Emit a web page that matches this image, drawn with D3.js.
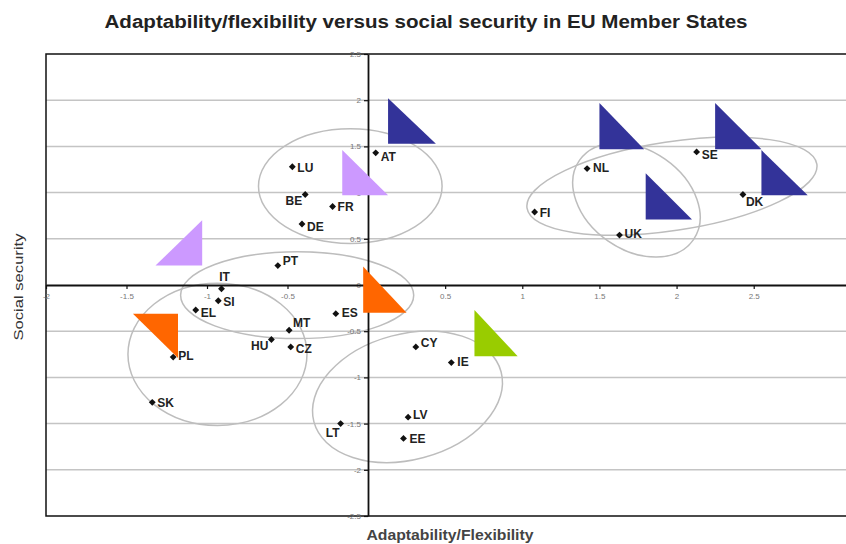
<!DOCTYPE html>
<html>
<head>
<meta charset="utf-8">
<script src="https://cdn.jsdelivr.net/npm/d3@7"></script>
<style>
  body { margin: 0; background: #fff; }
  text { font-family: "Liberation Sans", Arial, sans-serif; }
</style>
</head>
<body>
<script>
// member states and their two index scores
const countries = ["AT", "LU", "BE", "FR", "DE", "PT", "IT", "SI", "EL", "PL", "SK", "HU", "MT",
  "CZ", "ES", "LT", "CY", "IE", "LV", "EE", "FI", "NL", "SE", "DK", "UK"];
const adaptability = [0.05, -0.47, -0.39, -0.22, -0.41, -0.56, -0.91, -0.93, -1.07, -1.21, -1.34, -0.60, -0.49,
  -0.48, -0.20, -0.17, 0.31, 0.54, 0.26, 0.23, 1.08, 1.42, 2.13, 2.43, 1.63];
const socialSecurity = [1.43, 1.28, 0.98, 0.85, 0.66, 0.21, -0.04, -0.17, -0.27, -0.78, -1.27, -0.59, -0.49,
  -0.67, -0.31, -1.50, -0.67, -0.84, -1.43, -1.66, 0.79, 1.26, 1.44, 0.98, 0.54];

// cluster ellipses (data units)
const clusterCx = [-0.11, -0.44, -0.935, 0.256, 1.97, 1.74];
const clusterCy = [1.07, -0.11, -0.75, -1.21, 1.07, 0.92];
const clusterRx = [0.58, 0.73, 0.556, 0.62, 0.95, 0.45];
const clusterRy = [0.62, 0.47, 0.77, 0.68, 0.48, 0.54];
const clusterAngle = [0, 0, 0, -15, -8.6, 35];

// regime triangles (data units), corner = where the right angle sits
const triX0 = [0.13, 1.50, 2.25, 2.55, 1.80, -0.16, -1.32, -0.03, -1.46, 0.69];
const triX1 = [0.44, 1.79, 2.55, 2.85, 2.10, 0.13, -1.03, 0.25, -1.18, 0.97];
const triY0 = [2.02, 1.97, 1.97, 1.46, 1.21, 1.46, 0.70, 0.20, -0.31, -0.27];
const triY1 = [1.53, 1.47, 1.47, 0.97, 0.71, 0.97, 0.21, -0.30, -0.79, -0.77];
const triCorner = ["bl", "bl", "bl", "bl", "bl", "bl", "br", "bl", "tr", "bl"];
const triGroup = ["nordic", "nordic", "nordic", "nordic", "nordic", "continental", "continental", "mediterranean", "mediterranean", "liberal"];

const xTicks = [-2, -1.5, -1, -0.5, 0.5, 1, 1.5, 2, 2.5];
const yTicks = [2.5, 2, 1.5, 1, 0.5, 0, -0.5, -1, -1.5, -2, -2.5];
const gridValues = [2, 1.5, 1, 0.5, -0.5, -1, -1.5, -2];

const width = 846;
const height = 544;

const x = d3.scaleLinear()
    .domain([-2, 0, 3.5])
    .range([46, 368, 908]);

const y = d3.scaleLinear()
    .domain([-2.5, 2.5])
    .range([516, 54]);

const color = d3.scaleOrdinal()
    .domain(["nordic", "continental", "mediterranean", "liberal"])
    .range(["#333399", "#cc99ff", "#ff6600", "#99cc00"]);

// label placement tweaks, px
const labelPos = {
  AT: [5, 4], LU: [5, 1], BE: [-3, 6, "end"], FR: [5, 0.5], DE: [5, 3], PT: [5, -5],
  IT: [3, -12, "middle"], SI: [5, 1], EL: [5, 3], PL: [5, -1], SK: [5, 0],
  HU: [-3, 6, "end"], MT: [4, -8], CZ: [5, 2], ES: [6, -1], LT: [-1, 9, "end"],
  CY: [5, -4], IE: [6, -1], LV: [5, -2], EE: [6, 0], FI: [5, 1], NL: [6, -1],
  SE: [5, 3], DK: [3, 7], UK: [5, -1],
};

const svg = d3.select("body")
    .append("svg")
    .attr("width", width)
    .attr("height", height);

svg.append("text")
    .attr("x", 426)
    .attr("y", 28)
    .attr("text-anchor", "middle")
    .attr("font-size", 18)
    .attr("font-weight", "bold")
    .attr("fill", "#222")
    .attr("textLength", 643)
    .attr("lengthAdjust", "spacingAndGlyphs")
    .text("Adaptability/flexibility versus social security in EU Member States");

// gridlines
svg.append("g")
    .selectAll("line")
    .data(gridValues)
    .join("line")
    .attr("x1", x(-2))
    .attr("x2", width)
    .attr("y1", (d) => y(d))
    .attr("y2", (d) => y(d))
    .attr("stroke", "#c4c4c4")
    .attr("stroke-width", 1.5);

// plot border (right side runs off the page)
svg.append("path")
    .attr("d", `M${width},${y(2.5)}H${x(-2)}V${y(-2.5)}H${width}`)
    .attr("fill", "none")
    .attr("stroke", "#111")
    .attr("stroke-width", 1.5);

// cluster ellipses
const clusters = clusterCx.map((cx, i) => ({
  cx, cy: clusterCy[i], rx: clusterRx[i], ry: clusterRy[i], angle: clusterAngle[i],
}));

svg.append("g")
    .selectAll("ellipse")
    .data(clusters)
    .join("ellipse")
    .attr("cx", 0)
    .attr("cy", 0)
    .attr("rx", (d) => (x(d.cx + d.rx) - x(d.cx - d.rx)) / 2)
    .attr("ry", (d) => (y(d.cy - d.ry) - y(d.cy + d.ry)) / 2)
    .attr("transform", (d) => `translate(${x(d.cx)},${y(d.cy)}) rotate(${d.angle})`)
    .attr("fill", "none")
    .attr("stroke", "#bdbdbd")
    .attr("stroke-width", 1.5);

// axes through the origin
const yAxis = d3.axisLeft(y)
    .tickValues(yTicks)
    .tickSize(4)
    .tickSizeOuter(0)
    .tickFormat((d) => String(d));

const yAxisG = svg.append("g")
    .attr("transform", `translate(${x(0)},0)`)
    .call(yAxis);

const xAxis = d3.axisBottom(x)
    .tickValues(xTicks)
    .tickSize(4)
    .tickSizeOuter(0)
    .tickFormat((d) => String(d));

const xAxisG = svg.append("g")
    .attr("transform", `translate(0,${y(0)})`)
    .call(xAxis);

[yAxisG, xAxisG].forEach((g) => {
  g.select(".domain").attr("stroke", "#111").attr("stroke-width", 1.8);
  g.selectAll(".tick line").attr("stroke", "#111").attr("stroke-width", 1.2);
  g.selectAll(".tick text")
      .attr("font-size", 8)
      .attr("font-family", "Liberation Sans, Arial, sans-serif")
      .attr("fill", "#777");
});
xAxisG.selectAll(".tick text").attr("dy", "0.9em");

// axis titles
svg.append("text")
    .attr("transform", "translate(23,287) rotate(-90)")
    .attr("text-anchor", "middle")
    .attr("font-size", 13)
    .attr("fill", "#333")
    .attr("textLength", 107)
    .attr("lengthAdjust", "spacingAndGlyphs")
    .text("Social security");

svg.append("text")
    .attr("x", 450)
    .attr("y", 540)
    .attr("text-anchor", "middle")
    .attr("font-size", 14)
    .attr("font-weight", "bold")
    .attr("fill", "#444")
    .attr("textLength", 167)
    .attr("lengthAdjust", "spacingAndGlyphs")
    .text("Adaptability/Flexibility");

// countries
const points = countries.map((name, i) => ({
  name, ax: adaptability[i], ss: socialSecurity[i],
}));

const pointG = svg.append("g")
    .selectAll("g")
    .data(points)
    .join("g")
    .attr("transform", (d) => `translate(${x(d.ax)},${y(d.ss)})`);

pointG.append("path")
    .attr("d", d3.symbol(d3.symbolDiamond2).size(30))
    .attr("fill", "#111");

pointG.append("text")
    .attr("x", (d) => labelPos[d.name][0])
    .attr("y", (d) => labelPos[d.name][1])
    .attr("dy", "0.36em")
    .attr("text-anchor", (d) => labelPos[d.name][2] || "start")
    .attr("font-size", 12)
    .attr("font-weight", "bold")
    .attr("fill", "#222")
    .text((d) => d.name);

// regime triangles
const triangles = triX0.map((x0, i) => ({
  x0, x1: triX1[i], y0: triY0[i], y1: triY1[i], corner: triCorner[i], group: triGroup[i],
}));

const triPath = (d) => {
  const l = x(d.x0);
  const r = x(d.x1);
  const t = y(d.y0);
  const b = y(d.y1);

  if (d.corner === "br") {
    return `M${l},${b}L${r},${b}L${r},${t}Z`;
  } else if (d.corner === "tr") {
    return `M${l},${t}L${r},${t}L${r},${b}Z`;
  }

  return `M${l},${t}L${l},${b}L${r},${b}Z`;
};

svg.append("g")
    .selectAll("path")
    .data(triangles)
    .join("path")
    .attr("d", triPath)
    .attr("fill", (d) => color(d.group));
</script>
</body>
</html>
